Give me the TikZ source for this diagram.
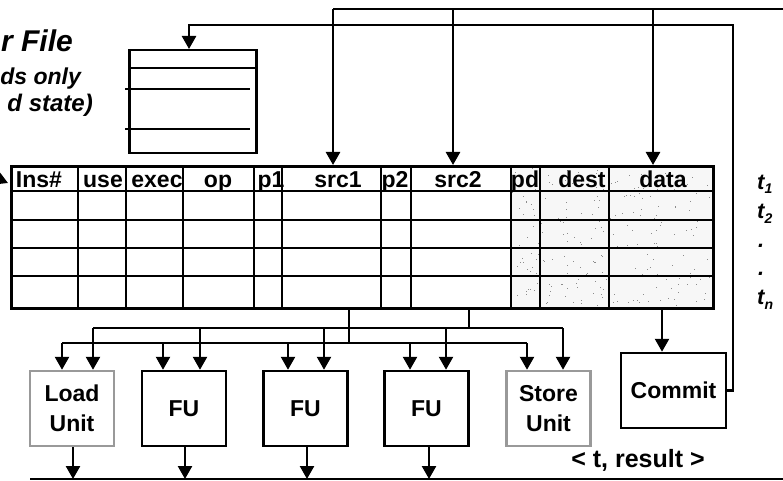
\documentclass[tikz,border=0pt]{standalone}
\usepackage{fontspec}
\setmainfont{Liberation Sans}
\usetikzlibrary{arrows.meta}
\newcommand\myfs[1]{\fontsize{#1}{#1}\selectfont}
\newcommand\mysub[1]{\raisebox{-5pt}{\myfs{14}\bfseries\itshape #1}}
\begin{document}
\begin{tikzpicture}[x=1pt,y=-1pt,
  thickln/.style={line width=2.5pt},
  thinln/.style={line width=1.2pt},
  arr/.style={line width=2.5pt,-{Triangle[width=14pt,length=13pt]}},
  plain/.style={line width=2.5pt},
  hdr/.style={font=\myfs{23}\bfseries,anchor=base,inner sep=0pt},
  unitbox/.style={draw=black,line width=2.5pt,minimum width=84pt,minimum height=75pt,inner sep=0pt,align=center,font=\fontsize{23}{30}\selectfont\bfseries},
  graybox/.style={unitbox,draw=black!40},
  tlab/.style={font=\myfs{22}\bfseries\itshape,anchor=base west,inner sep=0pt},
  rftext/.style={font=\bfseries\itshape,anchor=base east,inner sep=0pt}]
\useasboundingbox (0,0) rectangle (783,481);

% register file title (cut at the left edge)
\node[rftext,font=\myfs{30}\bfseries\itshape] (rft1) at (73,52) {r File};
\node[rftext,font=\myfs{23}\bfseries\itshape] (rft2) at (81,85) {ds only};
\node[rftext,font=\myfs{24}\bfseries\itshape] (rft3) at (93,112) {d state)};

% register file
\node[draw,line width=2.5pt,minimum width=127pt,minimum height=103pt,anchor=north west,inner sep=0pt] (rf) at (128,49) {};
\draw[plain] (130,68) -- (255,68);
\draw[plain] (125,89) -- (250,89);
\draw[plain] (125,129) -- (250,129);

% stipple
\fill[black!3] (511,165) rectangle (712,307);
\pgfmathsetseed{7}
\foreach \i in {1,...,240} {
  \pgfmathsetmacro\rx{511+201*rnd}
  \pgfmathsetmacro\ry{165+142*rnd}
  \fill[black!45] (\rx,\ry) rectangle ++(1,1);
}

% table
\node[draw,line width=2.8pt,minimum width=702pt,minimum height=142pt,anchor=north west,inner sep=0pt] (rob) at (10,165) {};
\foreach \y in {191,220,248,276} \draw[thickln] (10,\y) -- (712,\y);
\foreach \x in {78,126,183,254,381,511} \draw[thickln] (\x,165) -- (\x,307);
\foreach \x in {282,411,540,609} \draw[thinln] (\x,165) -- (\x,307);

% header
\node[hdr] (h1) at (39,187) {Ins\#};
\node[hdr] (h2) at (103,187) {use};
\node[hdr] (h3) at (157,187) {exec};
\node[hdr] (h4) at (218,187) {op};
\node[hdr] (h5) at (271,187) {p1};
\node[hdr] (h6) at (338,187) {src1};
\node[hdr] (h7) at (395,187) {p2};
\node[hdr] (h8) at (458,187) {src2};
\node[hdr] (h9) at (525,187) {pd};
\node[hdr] (h10) at (582,187) {dest};
\node[hdr] (h11) at (663,187) {data};
\draw[thickln] (183,167) -- (183,191);

% left arrow fragment
\coordinate (lf) at (-20,171);
\draw[arr] (lf) -- (8,183);

% time labels
\node[tlab] (t1) at (757,189) {t\mysub{1}};
\node[tlab] (t2) at (757,218) {t\mysub{2}};
\node[tlab] (t3) at (758,247) {.};
\node[tlab] (t4) at (758,275) {.};
\node[tlab] (t5) at (757,304) {t\mysub{n}};

% top bus
\coordinate (tbr) at (783,9);
\coordinate (tb1) at (333,9);
\coordinate (tb2) at (453,9);
\coordinate (tb3) at (653,9);
\draw[plain] (tbr) -- (tb1);
\draw[arr] (tb1) -- (tb1 |- rob.north);
\draw[arr] (tb2) -- (tb2 |- rob.north);
\draw[arr] (tb3) -- (tb3 |- rob.north);

% units
\node[graybox] (load) at (72,408.5) {Load\\Unit};
\node[unitbox] (fu1) at (184,408.5) {FU};
\node[unitbox] (fu2) at (305.5,408.5) {FU};
\node[unitbox] (fu3) at (426.5,408.5) {FU};
\node[graybox] (store) at (548.5,408.5) {Store\\Unit};
\node[unitbox,minimum width=105pt] (commit) at (673.5,390.5) {Commit};

% commit to register file
\coordinate (cr) at (733,25);
\coordinate (cl) at (189,25);
\draw[arr] (commit.east) -| (cr) -- (cl) -- (cl |- rf.north);

% data to commit
\coordinate (dc) at (662,307);
\draw[arr] (dc) -- (dc |- commit.north);

% operand buses
\coordinate (s1) at (349,307);
\coordinate (s2) at (469,307);
\coordinate (lbl) at (62,343);
\coordinate (lbr) at (527,343);
\coordinate (ubl) at (93,328);
\coordinate (ubr) at (563,328);
\draw[plain] (s1) -- (s1 |- lbl);
\draw[plain] (s2) -- (s2 |- ubl);
\draw[plain] (lbl) -- (lbr);
\draw[plain] (ubl) -- (ubr);
\foreach \x/\u in {62/load,163/fu1,288/fu2,410/fu3,527/store}
  {\coordinate (tmp) at (\x,343); \draw[arr] (tmp) -- (tmp |- \u.north);}
\foreach \x/\u in {93/load,200/fu1,324/fu2,446/fu3,563/store}
  {\coordinate (tmp) at (\x,328); \draw[arr] (tmp) -- (tmp |- \u.north);}

% result bus
\coordinate (rbl) at (30,479);
\coordinate (rbr) at (783,479);
\draw[plain] (rbl) -- (rbr);
\foreach \x/\u in {73/load,185/fu1,307/fu2,429/fu3}
  {\coordinate (tmp) at (\x,479); \draw[arr] (tmp |- \u.south) -- (tmp);}
\node[font=\myfs{25}\bfseries,anchor=base,inner sep=0pt] (res) at (638,467) {< t, result >};
\end{tikzpicture}
\end{document}
